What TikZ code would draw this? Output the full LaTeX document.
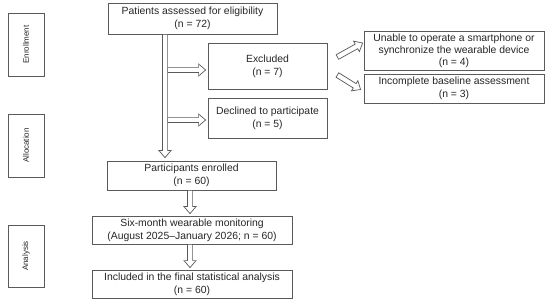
\documentclass[tikz,border=0pt]{standalone}
\usepackage{fontspec}
\setmainfont{Liberation Sans}
\usepackage{graphicx}
\usetikzlibrary{calc}
\definecolor{linegray}{HTML}{5A5A5A}
\definecolor{txt}{HTML}{262626}
\tikzset{
  box/.style={draw=linegray, line width=0.8pt, fill=white, text=txt, inner sep=0pt,
    align=center, font=\fontsize{10.4}{13}\selectfont},
  side/.style={draw=linegray, line width=0.8pt, fill=white, text=txt, inner sep=0pt,
    font=\fontsize{8}{9.6}\selectfont, minimum width=36pt},
  harrow/.style={draw=linegray, line width=0.7pt, fill=white, line join=miter,
    to path={let \p1=(\tikztostart), \p2=(\tikztotarget),
      \p3=($(\p2)!7pt!(\p1)$), \n1={atan2(\y2-\y1,\x2-\x1)} in
      ($(\p1)+({\n1+90}:2.6pt)$) -- ($(\p3)+({\n1+90}:2.6pt)$) --
      ($(\p3)+({\n1+90}:6pt)$) -- (\p2) -- ($(\p3)+({\n1-90}:6pt)$) --
      ($(\p3)+({\n1-90}:2.6pt)$) -- ($(\p1)+({\n1-90}:2.6pt)$) -- cycle}}
}
\begin{document}
\begin{tikzpicture}[x=1pt, y=-1pt]
\fill[white] (0,0) rectangle (550,305);
\useasboundingbox (0,0) rectangle (550,305);

% side labels
\node[side, minimum height=63pt] (enr) at (26,44.5) {\rotatebox{90}{Enrollment}};
\node[side, minimum height=63pt] (all) at (26,145.5) {\rotatebox{90}{Allocation}};
\node[side, minimum height=62pt] (ana) at (26,256) {\rotatebox{90}{Analysis}};

% boxes
\node[box, minimum width=169pt, minimum height=31pt] (patients) at (192.5,18.5)
  {Patients assessed for eligibility\\(n = 72)};
\node[box, minimum width=119pt, minimum height=46pt] (excluded) at (267.5,66)
  {Excluded\\(n = 7)};
\node[box, minimum width=119pt, minimum height=40pt] (declined) at (267.5,118)
  {Declined to participate\\(n = 5)};
\node[box, minimum width=180pt, minimum height=39pt, font=\fontsize{10.4}{12}\selectfont] (unable) at (454,50.5)
  {Unable to operate a smartphone or\\synchronize the wearable device\\(n = 4)};
\node[box, minimum width=180pt, minimum height=29pt, font=\fontsize{10.4}{12.5}\selectfont] (incomplete) at (454,88.5)
  {Incomplete baseline assessment\\(n = 3)};
\node[box, minimum width=169pt, minimum height=29pt] (enrolled) at (191.5,175.5)
  {Participants enrolled\\(n = 60)};
\node[box, minimum width=200pt, minimum height=28pt] (sixmonth) at (192,230)
  {Six-month wearable monitoring\\(August 2025–January 2026; n = 60)};
\node[box, minimum width=200pt, minimum height=28pt] (included) at (192,284)
  {Included in the final statistical analysis\\(n = 60)};

% shaft reference and free ends
\coordinate (s) at (165,0);
\coordinate (d1s) at ($(excluded.east)+(10,-9)$);
\coordinate (d1e) at ($(unable.west)+(-1,-7.5)$);
\coordinate (d2s) at ($(excluded.east)+(10,9)$);
\coordinate (d2e) at ($(incomplete.west)+(-3,1)$);

% arrows
\draw[harrow] ($(s |- excluded.west)+(2.6,4)$) to ($(excluded.west)+(-2,4)$);
\draw[harrow] ($(s |- declined.west)+(2.6,2)$) to ($(declined.west)+(-2,2)$);
\draw[harrow] (s |- patients.south) to ($(s |- enrolled.north)+(0,-3)$);
\draw[harrow] (d1s) to (d1e);
\draw[harrow] (d2s) to (d2e);
\draw[harrow] ($(enrolled.south)+(-1.5,0)$) to ($(sixmonth.north)+(-2,-2)$);
\draw[harrow] ($(sixmonth.south)+(-2,0)$) to ($(included.north)+(-2,-2)$);
\end{tikzpicture}
\end{document}
